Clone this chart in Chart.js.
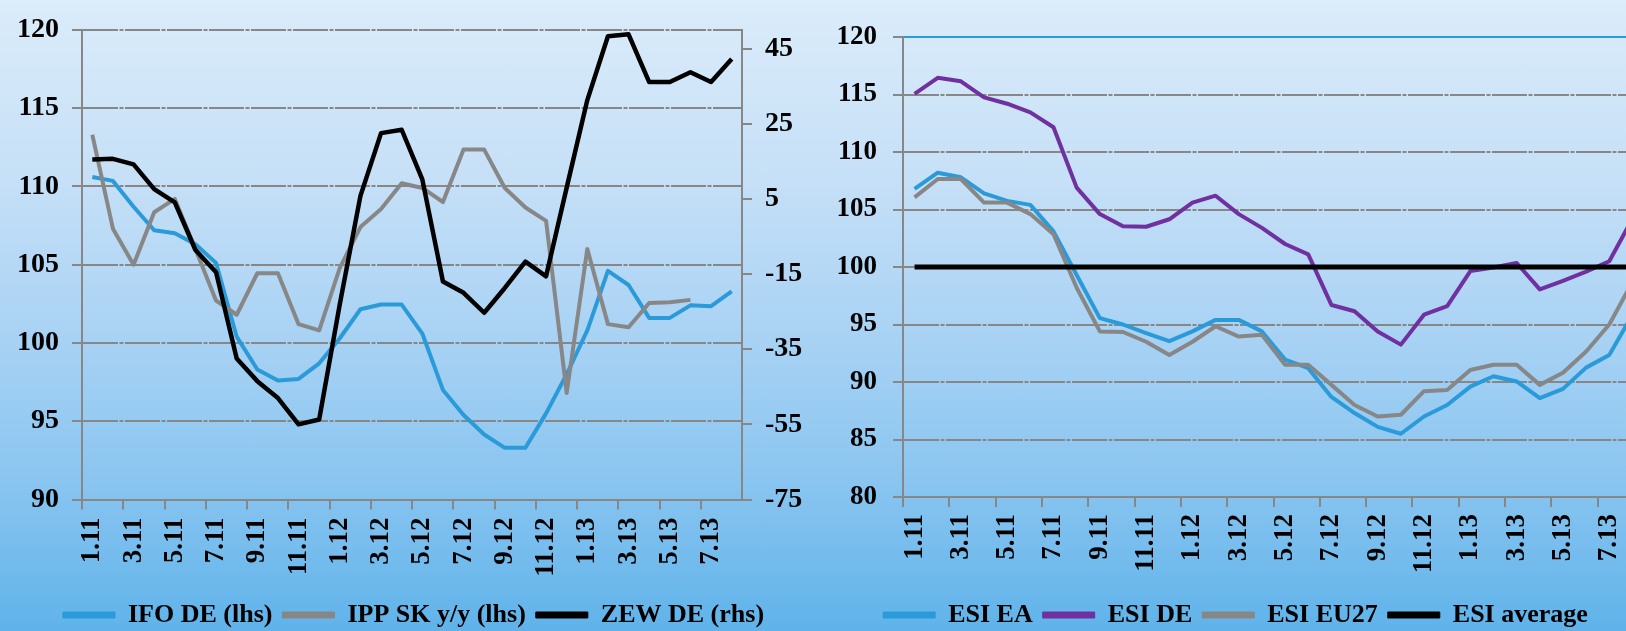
<!DOCTYPE html>
<html><head><meta charset="utf-8">
<script src="https://cdn.jsdelivr.net/npm/chart.js@4"></script>
<style>
html,body{margin:0;padding:0;width:1626px;height:631px;overflow:hidden;}
#wrap{position:relative;width:1626px;height:631px;overflow:hidden;
  background:linear-gradient(180deg,#dbecfa 0%,#c6e0f7 28%,#aad3f4 52%,#8ac5f0 76%,#5fb3ea 100%);}
canvas{position:absolute;top:0;}
#c1{left:0;}
#c2{left:827px;}
</style></head><body>
<div id="wrap">
<canvas id="c1" width="827" height="638"></canvas>
<canvas id="c2" width="846" height="638"></canvas>
</div>
<script>
// ---- data ----
const months = ["1.11","2.11","3.11","4.11","5.11","6.11","7.11","8.11","9.11","10.11","11.11","12.11",
                "1.12","2.12","3.12","4.12","5.12","6.12","7.12","8.12","9.12","10.12","11.12","12.12",
                "1.13","2.13","3.13","4.13","5.13","6.13","7.13","8.13"];
const ifoDE = [110.6,110.35,108.7,107.2,107.0,106.3,105.1,100.4,98.3,97.6,97.7,98.7,
               100.3,102.15,102.45,102.45,100.6,97.0,95.4,94.15,93.3,93.3,95.5,98.0,
               100.8,104.6,103.7,101.6,101.6,102.4,102.35,103.3];
const ippSK = [113.3,107.3,105.0,108.35,109.2,106.0,102.7,101.8,104.45,104.45,101.2,100.8,
               104.8,107.4,108.55,110.2,109.9,109.0,112.35,112.35,109.9,108.65,107.8,96.8,
               106.0,101.2,101.0,102.55,102.6,102.75,null,null];
const zewDE = [15.5,15.65,14.2,7.6,4.1,-8.6,-14.5,-37.5,-43.5,-48,-55,-53.7,
               -23,5.8,22.5,23.4,10.2,-17,-20,-25.3,-18.7,-11.7,-15.6,8,
               31.3,48.3,48.8,36.1,36.1,38.7,36.1,42.2];
const esiEA = [106.8,108.2,107.8,106.4,105.75,105.4,103.1,99.3,95.55,95.0,94.25,93.55,
               94.4,95.4,95.4,94.4,91.95,91.2,88.7,87.3,86.1,85.5,87.0,88.0,
               89.6,90.5,90.05,88.6,89.4,91.25,92.35,95.85];
const esiDE = [115.05,116.45,116.15,114.75,114.2,113.45,112.15,106.9,104.6,103.55,103.5,104.15,
               105.6,106.2,104.6,103.4,102.0,101.1,96.7,96.15,94.4,93.25,95.85,96.6,
               99.65,99.95,100.35,98.05,98.8,99.6,100.5,104.2];
const esiEU27 = [106.05,107.65,107.65,105.6,105.6,104.6,102.85,98.2,94.4,94.35,93.5,92.35,
                 93.5,94.85,93.95,94.1,91.5,91.5,89.75,88.0,87.0,87.15,89.2,89.3,
                 91.05,91.5,91.5,89.75,90.8,92.65,95.0,98.7];
const esiAvg = [100,100,100,100,100,100,100,100,100,100,100,100,
                100,100,100,100,100,100,100,100,100,100,100,100,
                100,100,100,100,100,100,100,100];
const leftTicksL = [90,95,100,105,110,115,120];
const leftTicksR = [-75,-55,-35,-15,5,25,45];
const rightTicks = [80,85,90,95,100,105,110,115,120];

// ---- style ----
const BLUE = '#2b9ad8', GRAY = '#878787', BLACK = '#000000', PURPLE = '#7030a0';
const DASH = [35,1.5,4,1.5];
Chart.defaults.font.family = "'Liberation Serif','Times New Roman',serif";
Chart.defaults.font.weight = 'bold';
Chart.defaults.color = '#000';

function line(label, data, color, w, order, axis) {
  return {label, data, borderColor: color, backgroundColor: color, borderWidth: w,
          pointRadius: 0, pointHoverRadius: 0, tension: 0, order, yAxisID: axis || 'y',
          borderJoinStyle: 'round', spanGaps: false, fill: false};
}
const legendOpts = {
  position: 'bottom',
  labels: {
    font: {size: 26, weight: 'bold'}, boxWidth: 52, boxHeight: 6, padding: 10, color: '#000',
    generateLabels: (chart) => chart.data.datasets.map((ds, i) => ({
      text: ds.label, fillStyle: ds.borderColor, strokeStyle: ds.borderColor,
      lineWidth: 1, hidden: false, datasetIndex: i, fontColor: '#000'
    }))
  }
};
function xAxis(h, pad) {
  return {
    type: 'category', offset: true,
    grid: {offset: true, drawOnChartArea: false, tickLength: 10, lineWidth: 2,
           color: (c) => (c.index % 2 === 0 ? GRAY : 'rgba(0,0,0,0)'),
           tickColor: (c) => (c.index % 2 === 0 ? GRAY : 'rgba(0,0,0,0)')},
    border: {display: true, color: GRAY, width: 2},
    ticks: {autoSkip: false, minRotation: 90, maxRotation: 90, padding: pad,
            font: {size: 27, weight: 'bold'},
            callback: function (v, i) { return i % 2 === 0 ? this.getLabelForValue(v) : ''; }},
    afterFit: (s) => { s.height = h; }
  };
}

new Chart(document.getElementById('c1'), {
  type: 'line',
  data: {labels: months, datasets: [
    line('IFO DE (lhs)', ifoDE, BLUE, 4, 3, 'y'),
    line('IPP SK y/y (lhs)', ippSK, GRAY, 4, 2, 'y'),
    line('ZEW DE (rhs)', zewDE, BLACK, 4.5, 1, 'y1')
  ]},
  options: {
    responsive: false, animation: false, devicePixelRatio: 1,
    layout: {padding: {top: 22, left: 0, right: 0, bottom: 0}},
    plugins: {legend: legendOpts, tooltip: {enabled: false}},
    scales: {
      x: xAxis(92.5, 8),
      y: {
        position: 'left', min: 90, max: 120,
        afterBuildTicks: (s) => { s.ticks = leftTicksL.map(v => ({value: v})); },
        grid: {color: GRAY, lineWidth: 2, tickLength: 10, tickColor: GRAY},
        border: {display: true, color: GRAY, width: 2, dash: DASH},
        ticks: {font: {size: 28, weight: 'bold'}, padding: 13, callback: (v) => String(v)},
        afterFit: (s) => { s.width = 82; }
      },
      y1: {
        position: 'right', min: -75, max: 50,
        afterBuildTicks: (s) => { s.ticks = leftTicksR.map(v => ({value: v})); },
        grid: {drawOnChartArea: false, color: GRAY, lineWidth: 2, tickLength: 10},
        border: {display: true, color: GRAY, width: 2},
        ticks: {font: {size: 28, weight: 'bold'}, padding: 13, callback: (v) => String(v)},
        afterFit: (s) => { s.width = 85; }
      }
    }
  }
});

new Chart(document.getElementById('c2'), {
  type: 'line',
  data: {labels: months, datasets: [
    line('ESI EA', esiEA, BLUE, 4, 4),
    line('ESI DE', esiDE, PURPLE, 4, 3),
    line('ESI EU27', esiEU27, GRAY, 4, 2),
    line('ESI average', esiAvg, BLACK, 5, 1)
  ]},
  options: {
    responsive: false, animation: false, devicePixelRatio: 1,
    layout: {padding: {top: 37, left: 0, right: 29, bottom: 0}},
    plugins: {legend: legendOpts, tooltip: {enabled: false}},
    scales: {
      x: xAxis(95, 7),
      y: {
        position: 'left', min: 80, max: 120,
        afterBuildTicks: (s) => { s.ticks = rightTicks.map(v => ({value: v})); },
        grid: {lineWidth: 2, tickLength: 10, tickColor: GRAY,
               color: (c) => (c.tick && c.tick.value === 120 ? BLUE : GRAY)},
        border: {display: true, color: GRAY, width: 2,
                 dash: (c) => (c.tick && c.tick.value === 120 ? [] : DASH)},
        ticks: {font: {size: 27, weight: 'bold'}, padding: 16, callback: (v) => String(v)},
        afterFit: (s) => { s.width = 76; }
      }
    }
  }
});
</script>
</body></html>
